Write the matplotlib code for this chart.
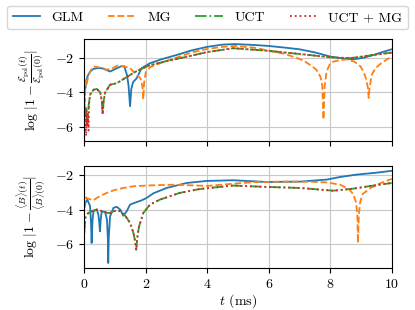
import matplotlib
matplotlib.use("Agg")
import matplotlib.pyplot as plt

# --- energy panel ---
t_glm_e = [0, 0.05, 0.1, 0.19, 0.3, 0.45, 0.6, 0.84, 1.05, 1.2, 1.3, 1.39, 1.44, 1.49, 1.53, 1.59,
           1.7, 1.87, 2.14, 2.5, 3.0, 3.5, 4.0, 4.5, 4.9, 5.5, 6.0, 6.5, 7.0, 7.5, 8.0, 8.4, 8.75,
           9.1, 9.4, 9.7, 10.0]
glm_e = [-4.2, -3.6, -3.1, -2.8, -2.65, -2.6, -2.62, -2.8, -2.62, -2.5, -2.5, -3.0, -3.6, -4.8,
         -3.8, -3.4, -3.2, -2.6, -2.32, -2.1, -1.85, -1.58, -1.38, -1.25, -1.22, -1.27, -1.33,
         -1.42, -1.52, -1.7, -1.94, -2.05, -2.1, -2.0, -1.85, -1.68, -1.52]

t_mg_e = [0, 0.02, 0.04, 0.08, 0.13, 0.19, 0.3, 0.45, 0.6, 0.73, 0.9, 1.1, 1.27, 1.49, 1.65,
          1.78, 1.86, 1.9, 1.92, 1.95, 2.0, 2.14, 2.5, 3.0, 3.5, 4.0, 4.5, 4.9, 5.5, 6.0, 6.5,
          6.8, 7.1, 7.35, 7.55, 7.68, 7.74, 7.78, 7.82, 7.88, 7.98, 8.1, 8.3, 8.55, 8.8, 8.98,
          9.08, 9.16, 9.22, 9.25, 9.28, 9.35, 9.45, 9.6, 9.8, 10.0]
mg_e = [-3.7, -4.5, -3.3, -3.5, -3.1, -2.8, -2.51, -2.55, -2.6, -2.7, -2.62, -2.45, -2.5, -2.6,
        -2.9, -3.1, -3.3, -3.8, -4.4, -3.4, -2.85, -2.55, -2.3, -2.0, -1.7, -1.5, -1.38, -1.33,
        -1.42, -1.6, -1.78, -1.95, -2.15, -2.42, -2.7, -3.1, -3.6, -5.56, -3.6, -2.8, -2.4,
        -2.23, -2.15, -2.1, -2.25, -2.5, -2.8, -3.2, -3.7, -4.32, -3.7, -3.0, -2.65, -2.4,
        -2.15, -1.94]

t_uct_e = [0, 0.03, 0.06, 0.1, 0.14, 0.19, 0.3, 0.41, 0.52, 0.57, 0.6, 0.63, 0.68, 0.84, 1.06,
           1.27, 1.49, 1.71, 1.92, 2.14, 2.68, 3.33, 4.0, 4.84, 5.93, 7.0, 8.0, 8.65, 9.4, 10.0]
uct_e = [-4.5, -5.5, -4.9, -5.8, -4.8, -4.13, -3.85, -3.8, -4.0, -4.5, -5.27, -4.5, -4.0, -3.56,
         -3.47, -3.24, -3.0, -2.77, -2.6, -2.43, -2.2, -1.95, -1.68, -1.46, -1.6, -1.79, -1.98,
         -2.03, -1.85, -1.71]

t_both_e = [0, 0.02, 0.04, 0.06, 0.08, 0.1, 0.12, 0.14, 0.16, 0.19, 0.3, 0.41, 0.52, 0.57, 0.6,
            0.63, 0.68, 0.84, 1.06, 1.27, 1.49, 1.71, 1.92, 2.14, 2.68, 3.33, 4.0, 4.84, 5.93,
            7.0, 8.0, 8.65, 9.4, 10.0]
both_e = [-5.0, -6.3, -5.2, -6.5, -5.0, -6.0, -5.3, -6.2, -4.6, -4.13, -3.85, -3.8, -4.0, -4.5,
          -5.27, -4.5, -4.0, -3.56, -3.47, -3.24, -3.0, -2.77, -2.6, -2.43, -2.2, -1.95, -1.68,
          -1.46, -1.6, -1.79, -1.98, -2.03, -1.85, -1.71]

# --- magnetic field panel ---
t_glm_b = [0, 0.04, 0.1, 0.19, 0.22, 0.24, 0.27, 0.3, 0.41, 0.46, 0.49, 0.51, 0.54, 0.57, 0.68,
           0.74, 0.77, 0.78, 0.8, 0.84, 0.95, 1.06, 1.17, 1.27, 1.38, 1.49, 1.65, 1.87, 2.03,
           2.25, 2.68, 3.33, 3.98, 4.84, 5.93, 7.02, 7.89, 8.32, 8.86, 9.5, 10.0]
glm_b = [-3.9, -3.6, -3.42, -3.8, -4.8, -5.95, -4.6, -4.1, -4.0, -4.3, -4.8, -5.27, -4.5, -4.1,
         -4.15, -4.6, -5.8, -7.12, -5.5, -4.4, -3.9, -3.84, -4.0, -4.36, -4.1, -3.71, -3.6,
         -3.46, -3.32, -3.05, -2.74, -2.45, -2.33, -2.29, -2.39, -2.37, -2.25, -2.1, -1.96,
         -1.85, -1.74]

t_mg_b = [0, 0.02, 0.05, 0.15, 0.3, 0.46, 0.68, 0.95, 1.27, 1.6, 2.14, 2.9, 4.0, 4.8, 5.5, 6.5,
          7.4, 7.9, 8.32, 8.6, 8.75, 8.84, 8.88, 8.9, 8.93, 8.97, 9.05, 9.3, 9.65, 10.0]
mg_b = [-3.9, -3.5, -3.3, -3.38, -3.46, -3.26, -3.07, -2.88, -2.74, -2.64, -2.59, -2.55, -2.62,
        -2.5, -2.4, -2.37, -2.38, -2.42, -2.55, -2.8, -3.1, -3.6, -4.3, -5.95, -4.3, -3.6,
        -3.1, -2.75, -2.45, -2.21]

t_uct_b = [0, 0.03, 0.13, 0.3, 0.41, 0.6, 0.75, 0.84, 0.95, 1.06, 1.17, 1.33, 1.49, 1.6, 1.66,
           1.69, 1.72, 1.78, 1.92, 2.14, 2.46, 3.1, 3.76, 4.84, 5.93, 7.02, 8.1, 8.75, 9.4, 10.0]
uct_b = [-5.35, -4.5, -4.2, -4.05, -4.0, -4.1, -4.2, -4.2, -4.1, -4.05, -4.1, -4.35, -4.78,
         -5.37, -5.9, -6.35, -5.7, -5.0, -4.2, -3.71, -3.42, -3.03, -2.8, -2.6, -2.68, -2.74,
         -2.9, -2.78, -2.6, -2.45]
both_b = uct_b

labels = ["GLM", "MG", "UCT", "UCT + MG"]

plt.rcParams["font.family"] = "serif"
plt.rcParams["font.serif"] = ["cmr10"]
plt.rcParams["mathtext.fontset"] = "cm"
plt.rcParams["axes.formatter.use_mathtext"] = True
plt.rcParams["font.size"] = 10

fig = plt.figure(figsize=(4.15, 3.1), dpi=100)
ax1 = fig.add_axes([0.203, 0.545, 0.741, 0.328])
ax2 = fig.add_axes([0.203, 0.136, 0.741, 0.329], sharex=ax1)

styles = [("C0", "-"), ("C1", "--"), ("C2", "-."), ("C3", ":")]

top = [(t_glm_e, glm_e), (t_mg_e, mg_e), (t_uct_e, uct_e), (t_both_e, both_e)]
bot = [(t_glm_b, glm_b), (t_mg_b, mg_b), (t_uct_b, uct_b), (t_uct_b, both_b)]

handles = []
for (t, v), (c, ls), lab in zip(top, styles, labels):
    h, = ax1.plot(t, v, color=c, ls=ls, lw=1.3, label=lab)
    handles.append(h)
for (t, v), (c, ls) in zip(bot, styles):
    ax2.plot(t, v, color=c, ls=ls, lw=1.3)

ax1.set_ylim(-6.8, -0.95)
ax2.set_ylim(-7.4, -1.45)
ax1.set_xlim(0, 10)
for ax in (ax1, ax2):
    ax.set_yticks([-6, -4, -2])
    ax.grid(True, color="#c8c8c8", lw=0.8)
ax2.set_xticks([0, 2, 4, 6, 8, 10])
ax1.tick_params(labelbottom=False)

ax1.set_ylabel(r"$\log\,|1-\frac{\mathcal{E}_{\rm pol}(t)}{\mathcal{E}_{\rm pol}(0)}|$", labelpad=6)
ax2.set_ylabel(r"$\log\,|1-\frac{\langle B\rangle(t)}{\langle B\rangle(0)}|$", labelpad=6)
ax2.set_xlabel(r"$t$ (ms)", labelpad=1)
fig.align_ylabels([ax1, ax2])

fig.legend(handles, labels, loc="lower left", bbox_to_anchor=(0.017, 0.905, 0.966, 0.08),
           ncol=4, mode="expand", borderaxespad=0)

fig.savefig("out.png", dpi=100)
